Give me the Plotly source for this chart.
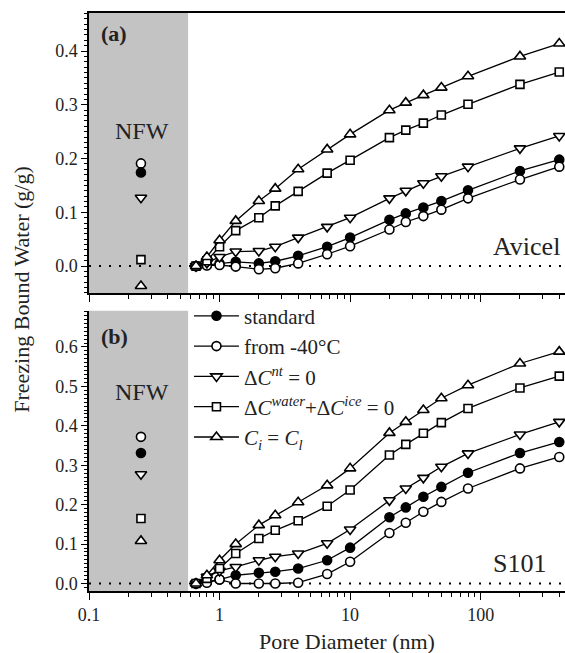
import plotly.graph_objects as go

# ---------------- data ----------------
pore_nm = [0.66, 0.8, 1.0, 1.33, 2.0, 2.67, 4.0, 6.67, 10, 20, 26.7, 36.4, 50, 80, 200, 400]
nfw_x = [0.25]

# panel (a) Avicel
a_standard = [0, 0.002, 0.005, 0.008, 0.005, 0.009, 0.019, 0.036, 0.053, 0.086, 0.098, 0.109, 0.121, 0.141, 0.177, 0.198]
a_from40 = [0, 0.001, 0.002, -0.001, -0.006, -0.004, 0.005, 0.022, 0.037, 0.068, 0.082, 0.093, 0.105, 0.126, 0.161, 0.185]
a_dcnt = [0, 0.006, 0.017, 0.027, 0.028, 0.036, 0.053, 0.073, 0.090, 0.126, 0.140, 0.154, 0.167, 0.185, 0.219, 0.242]
a_dcwi = [0, 0.010, 0.036, 0.066, 0.090, 0.112, 0.139, 0.173, 0.197, 0.239, 0.253, 0.266, 0.281, 0.301, 0.338, 0.361]
a_cicl = [0, 0.017, 0.048, 0.084, 0.121, 0.144, 0.180, 0.217, 0.245, 0.290, 0.304, 0.318, 0.332, 0.353, 0.390, 0.414]
a_nfw = [0.174, 0.191, 0.127, 0.012, -0.037]   # standard, from -40, dCnt, dCw+dCi, Ci=Cl

# panel (b) S101
b_standard = [0, 0.004, 0.010, 0.021, 0.027, 0.030, 0.038, 0.059, 0.091, 0.168, 0.193, 0.220, 0.245, 0.281, 0.331, 0.359]
b_from40 = [0, 0.002, 0.010, 0.0, 0.0, 0.0, 0.002, 0.024, 0.055, 0.128, 0.154, 0.182, 0.207, 0.241, 0.292, 0.321]
b_dcnt = [0, 0.017, 0.032, 0.042, 0.059, 0.068, 0.076, 0.102, 0.137, 0.211, 0.241, 0.268, 0.296, 0.330, 0.378, 0.410]
b_dcwi = [0, 0.013, 0.038, 0.076, 0.114, 0.135, 0.159, 0.196, 0.237, 0.326, 0.353, 0.381, 0.408, 0.444, 0.496, 0.526]
b_cicl = [0, 0.021, 0.059, 0.100, 0.148, 0.173, 0.206, 0.249, 0.292, 0.382, 0.410, 0.440, 0.470, 0.503, 0.558, 0.588]
b_nfw = [0.331, 0.372, 0.277, 0.165, 0.108]

series_names = [
    "standard",
    "from -40°C",
    "Δ<i>C</i><sup><i>nt</i></sup> = 0",
    "Δ<i>C</i><sup><i>water</i></sup>+Δ<i>C</i><sup><i>ice</i></sup> = 0",
    "<i>C</i><sub><i>i</i></sub> = <i>C</i><sub><i>l</i></sub>",
]
nfw_region = [0.1, 0.574]
x_ticks = [0.1, 1, 10, 100]
x_ticktext = ["0.1", "1", "10", "100"]

# ---------------- styles ----------------
FONT = "Liberation Serif"
TXT = "#222"
styles = [
    dict(symbol="circle", size=9, color="black"),
    dict(symbol="circle", size=9, color="white"),
    dict(symbol="triangle-down", size=10, color="white"),
    dict(symbol="square", size=8, color="white"),
    dict(symbol="triangle-up", size=10, color="white"),
]

fig = go.Figure()

panels = [
    ([a_standard, a_from40, a_dcnt, a_dcwi, a_cicl], a_nfw, "x", "y", False),
    ([b_standard, b_from40, b_dcnt, b_dcwi, b_cicl], b_nfw, "x2", "y2", True),
]
for series, nfw, xa, ya, show_leg in panels:
    for i, ys in enumerate(series):
        st = styles[i]
        fig.add_trace(go.Scatter(
            x=pore_nm, y=ys, xaxis=xa, yaxis=ya, mode="lines+markers",
            name=series_names[i], showlegend=show_leg, cliponaxis=False,
            line=dict(color="black", width=1.3),
            marker=dict(symbol=st["symbol"], size=st["size"], color=st["color"],
                        line=dict(color="black", width=1.6)),
        ))
        fig.add_trace(go.Scatter(
            x=nfw_x, y=[nfw[i]], xaxis=xa, yaxis=ya, mode="markers",
            showlegend=False, cliponaxis=False,
            marker=dict(symbol=st["symbol"], size=st["size"], color=st["color"],
                        line=dict(color="black", width=1.6)),
        ))

# grey NFW region + zero dotted lines
for xr, yr in [("x", "y"), ("x2", "y2")]:
    fig.add_shape(type="rect", xref=xr, yref=yr + " domain", x0=nfw_region[0], x1=nfw_region[1],
                  y0=0, y1=1, fillcolor="#c3c3c3", line_width=0, layer="below")
    fig.add_shape(type="line", xref=xr + " domain", yref=yr, x0=0, x1=1, y0=0, y1=0,
                  line=dict(color="black", width=2, dash="2px,8px"), layer="below")

axis_common = dict(showline=True, linecolor="black", linewidth=1.5, ticks="outside",
                   tickcolor="black", showgrid=False, zeroline=False,
                   tickfont=dict(family=FONT, size=18, color=TXT))

xr = [-1, 2.646]
fig.update_layout(
    width=565, height=653,
    margin=dict(l=89, r=0, t=13, b=62),
    paper_bgcolor="white", plot_bgcolor="white",
    font=dict(family=FONT, color=TXT),
    xaxis=dict(type="log", range=xr, anchor="y", domain=[0, 1], mirror=True,
               tickvals=x_ticks, showticklabels=False, ticklen=7,
               minor=dict(ticks="outside", ticklen=4, tickcolor="black", dtick="D1"),
               **axis_common),
    yaxis=dict(domain=[0.515, 1], range=[-0.0507, 0.4708], anchor="x",
               dtick=0.1, tick0=0, tickformat=".1f", ticklen=6,
               minor=dict(ticks="outside", ticklen=3, tickcolor="black", dtick=0.01, tick0=0),
               **axis_common),
    xaxis2=dict(type="log", range=xr, anchor="y2", domain=[0, 1],
                tickvals=x_ticks, ticktext=x_ticktext, ticklen=7,
                minor=dict(ticks="outside", ticklen=4, tickcolor="black", dtick="D1"),
                **axis_common),
    yaxis2=dict(domain=[0, 0.485], range=[-0.019, 0.692], anchor="x2",
                dtick=0.1, tick0=0, tickformat=".1f", ticklen=6,
                minor=dict(ticks="outside", ticklen=3, tickcolor="black", dtick=0.01, tick0=0),
                **axis_common),
    legend=dict(x=0.21, y=0.511, xanchor="left", yanchor="top", bgcolor="rgba(0,0,0,0)",
                font=dict(family=FONT, size=21, color=TXT), tracegroupgap=0,
                itemwidth=45),
    showlegend=True,
)

ann = [
    dict(text="<b>(a)</b>", x=0.021, y=0.965, xanchor="left", size=22),
    dict(text="NFW", x=0.111, y=0.795, xanchor="center", size=24),
    dict(text="Avicel", x=0.993, y=0.596, xanchor="right", size=26),
    dict(text="<b>(b)</b>", x=0.021, y=0.441, xanchor="left", size=22),
    dict(text="NFW", x=0.111, y=0.345, xanchor="center", size=24),
    dict(text="S101", x=0.965, y=0.048, xanchor="right", size=26),
]
for a in ann:
    fig.add_annotation(text=a["text"], xref="paper", yref="paper", x=a["x"], y=a["y"],
                       xanchor=a["xanchor"], yanchor="middle", showarrow=False,
                       font=dict(family=FONT, size=a["size"], color=TXT))

fig.add_annotation(text="Pore Diameter (nm)", xref="paper", yref="paper", x=0.542, y=-0.088,
                   xanchor="center", yanchor="middle", showarrow=False,
                   font=dict(family=FONT, size=22, color=TXT))
fig.add_annotation(text="Freezing Bound Water (g/g)", xref="paper", yref="paper", x=-0.141, y=0.521,
                   xanchor="center", yanchor="middle", textangle=-90, showarrow=False,
                   font=dict(family=FONT, size=22, color=TXT))

fig.write_html("out.html", config={"displayModeBar": False},
               post_script="document.body.style.margin='0px';document.body.style.overflow='hidden';")
